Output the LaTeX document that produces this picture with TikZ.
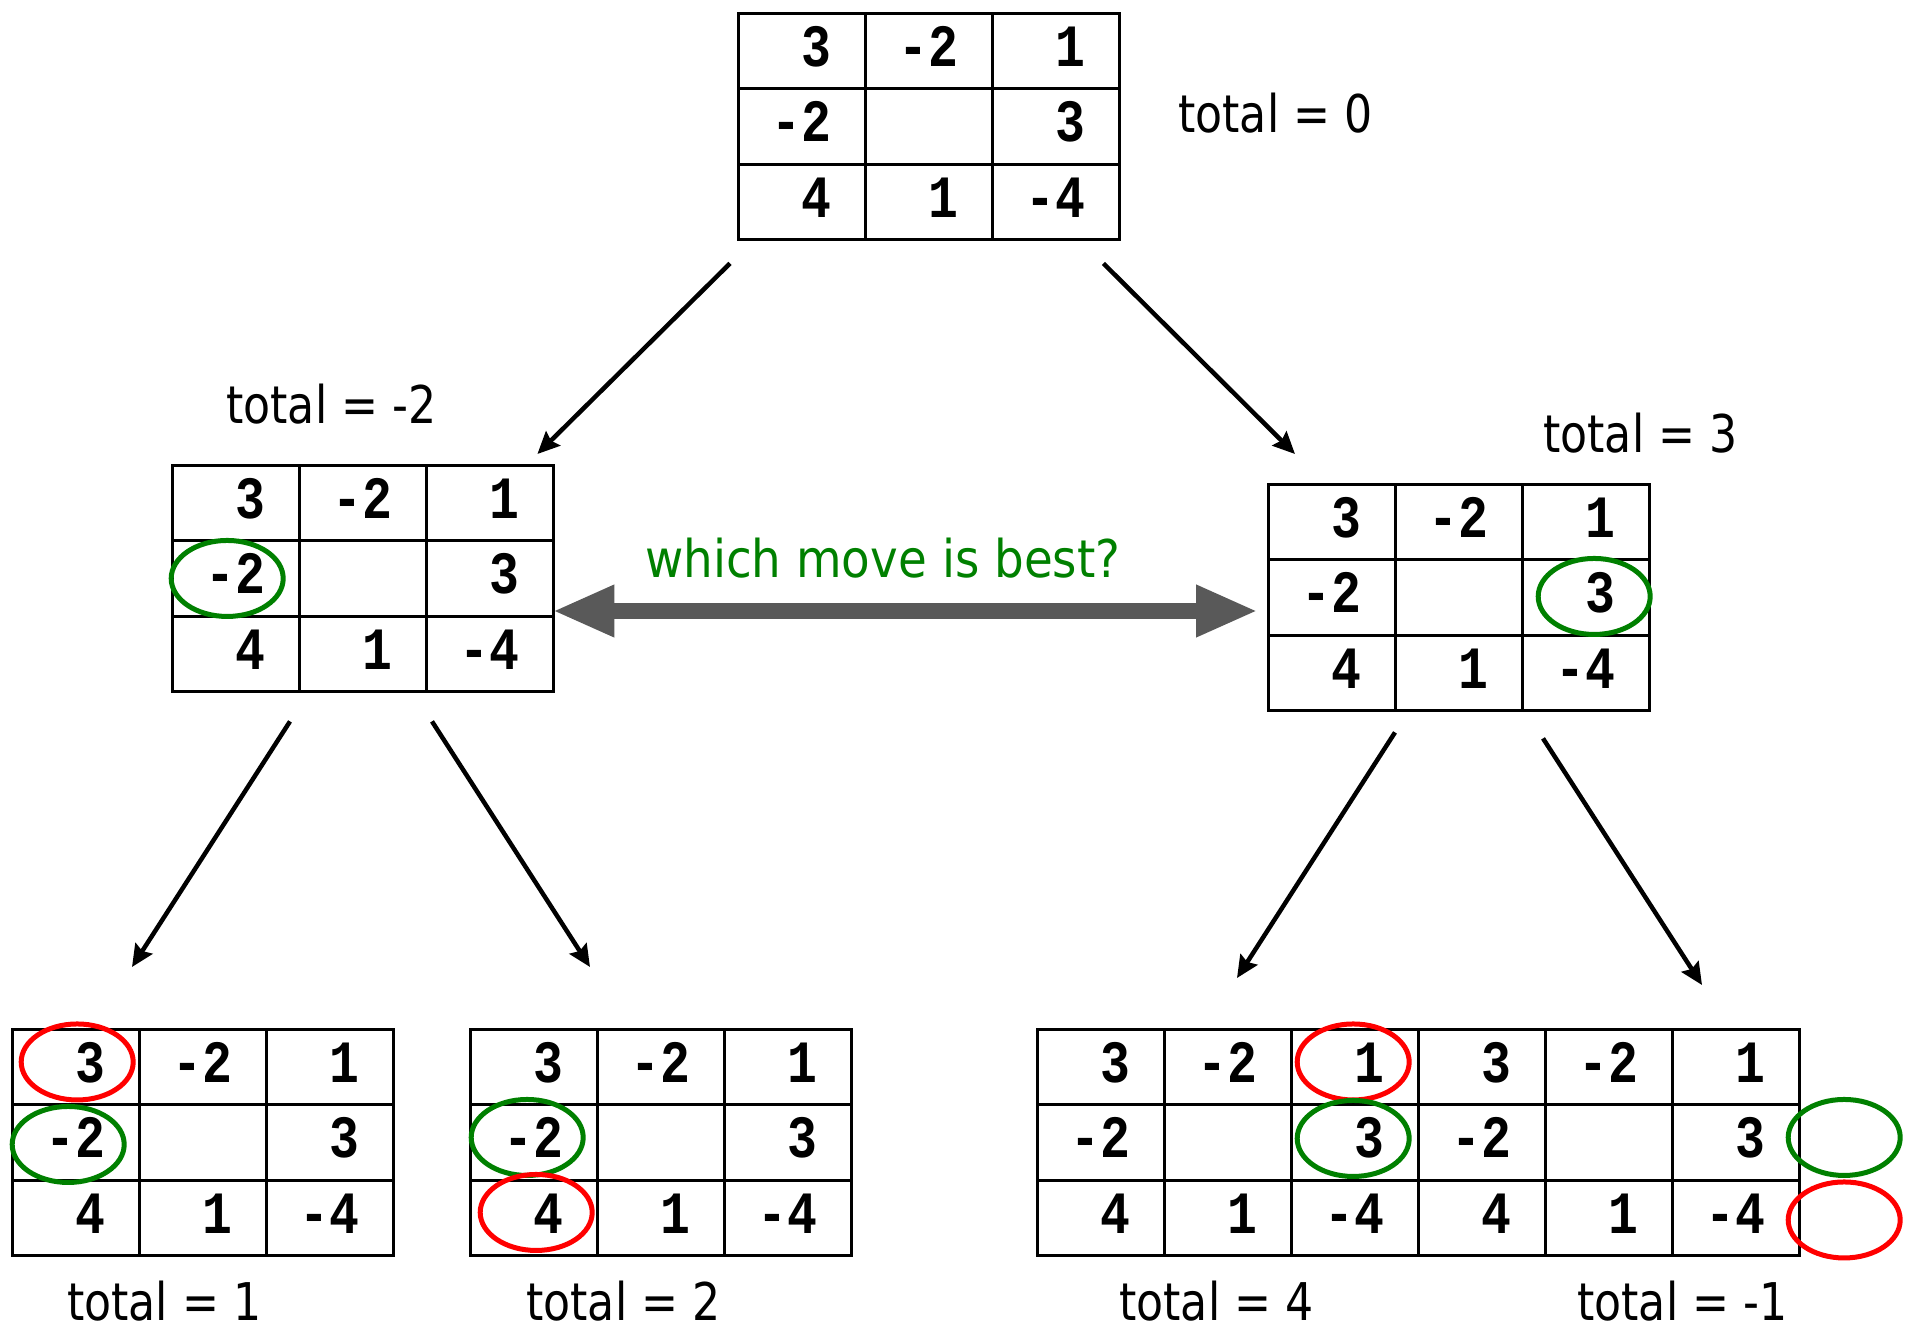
\documentclass[tikz,border=0pt]{standalone}
\usepackage{fontspec}
\newfontfamily\labelfont{DejaVu Sans}[FakeStretch=0.85]
\newfontfamily\questionfont{DejaVu Sans}[FakeStretch=0.9]
\newfontfamily\monofont{Liberation Mono}[FakeStretch=0.83]
\usetikzlibrary{matrix,arrows.meta,calc}

\definecolor{okgreen}{RGB}{0,128,0}
\definecolor{okred}{RGB}{255,0,0}
\definecolor{arrowgray}{RGB}{89,89,89}

% heavy monospaced face for the board values
\newcommand\digitfont{\fontsize{60}{60}\monofont\bfseries}
% a value right-aligned in a two-character field
\newcommand\cellv[1]{\sbox0{00}\makebox[\wd0][r]{#1}}

\tikzset{
  cellbox/.style={draw, line width=3pt, minimum width=127pt, minimum height=75.5pt,
    inner sep=0pt, text height=40pt, text depth=9.5pt, font=\digitfont},
  board/.style={matrix of nodes, nodes in empty cells, inner sep=0pt,
    column sep=-3pt, row sep=-3pt, anchor=north west, nodes={cellbox}},
  totlabel/.style={anchor=base west, inner sep=0pt, font={\fontsize{52}{62}\labelfont}},
  question/.style={anchor=base west, inner sep=0pt, text=okgreen,
    font={\fontsize{52}{62}\questionfont}},
  move/.style={-{Stealth[length=22pt,width=20pt,inset=3pt]}, line width=4.5pt},
  compare/.style={{Triangle[length=62pt,width=48pt]}-{Triangle[length=62pt,width=48pt]},
    line width=16pt, draw=arrowgray},
  goodring/.style={draw=okgreen, line width=5pt},
  badring/.style={draw=okred, line width=5pt},
}

\begin{document}
\begin{tikzpicture}[x=1pt, y=-1pt]
  \useasboundingbox (0,0) rectangle (1920,1330);

  % boards
  \matrix (T) [board] at (736.5,11.5) {
    \cellv{3} & \cellv{-2} & \cellv{1} \\
    \cellv{-2} & & \cellv{3} \\
    \cellv{4} & \cellv{1} & \cellv{-4} \\
  };
  \matrix (L) [board] at (170.5,463.5) {
    \cellv{3} & \cellv{-2} & \cellv{1} \\
    \cellv{-2} & & \cellv{3} \\
    \cellv{4} & \cellv{1} & \cellv{-4} \\
  };
  \matrix (R) [board] at (1266.5,482.5) {
    \cellv{3} & \cellv{-2} & \cellv{1} \\
    \cellv{-2} & & \cellv{3} \\
    \cellv{4} & \cellv{1} & \cellv{-4} \\
  };
  \matrix (B1) [board] at (10.5,1027.5) {
    \cellv{3} & \cellv{-2} & \cellv{1} \\
    \cellv{-2} & & \cellv{3} \\
    \cellv{4} & \cellv{1} & \cellv{-4} \\
  };
  \matrix (B2) [board] at (468.5,1027.5) {
    \cellv{3} & \cellv{-2} & \cellv{1} \\
    \cellv{-2} & & \cellv{3} \\
    \cellv{4} & \cellv{1} & \cellv{-4} \\
  };
  \matrix (B3) [board] at (1035.5,1027.5) {
    \cellv{3} & \cellv{-2} & \cellv{1} \\
    \cellv{-2} & & \cellv{3} \\
    \cellv{4} & \cellv{1} & \cellv{-4} \\
  };
  \matrix (B4) [board] at (1416.5,1027.5) {
    \cellv{3} & \cellv{-2} & \cellv{1} \\
    \cellv{-2} & & \cellv{3} \\
    \cellv{4} & \cellv{1} & \cellv{-4} \\
  };

  % totals
  \node[totlabel] (tT)  at (1178,132)  {total = 0};
  \node[totlabel] (tL)  at (226,423)   {total = -2};
  \node[totlabel] (tR)  at (1543,452)  {total = 3};
  \node[totlabel] (tB1) at (67,1320)   {total = 1};
  \node[totlabel] (tB2) at (526,1320)  {total = 2};
  \node[totlabel] (tB3) at (1119,1320) {total = 4};
  \node[totlabel] (tB4) at (1577,1320) {total = -1};
  \node[question] (q)   at (645,577)   {which move is best?};

  % moves
  \draw[move] ($(T.south west)+(-6.5,22)$) -- ($(L.north east)+(-17.5,-9.5)$);
  \draw[move] ($(T.south east)+(-17.5,22)$) -- ($(R.north west)+(28.5,-28.5)$);
  \draw[move] ($(L.south west)+(119.5,28)$) -- ($(B1.north west)+(121.5,-60.5)$);
  \draw[move] ($(L.south west)+(261.5,28)$) -- ($(B2.north west)+(121.5,-60.5)$);
  \draw[move] ($(R.south west)+(128.5,20)$) -- ($(B3.north west)+(201.5,-49.5)$);
  \draw[move] ($(R.south west)+(276.5,26)$) -- ($(B4.north west)+(285.5,-42.5)$);

  % comparison
  \draw[compare] ($(L.north east)+(-2.5,147.5)$) -- ($(R.north west)+(-8.5,128.5)$);

  % highlighted cells
  \draw[goodring] ($(L-2-1)+(-8.5,0)$) ellipse [x radius=56pt, y radius=38pt];
  \draw[goodring] ($(R-2-3)+(8.5,-1)$) ellipse [x radius=56pt, y radius=38pt];
  \draw[badring]  ($(B1-1-1)+(1.5,-5)$) ellipse [x radius=56pt, y radius=38pt];
  \draw[goodring] ($(B1-2-1)+(-7.5,2)$) ellipse [x radius=56pt, y radius=38pt];
  \draw[goodring] ($(B2-2-1)+(-6.5,-5)$) ellipse [x radius=56pt, y radius=38pt];
  \draw[badring]  ($(B2-3-1)+(2.5,-5.5)$) ellipse [x radius=56pt, y radius=38pt];
  \draw[badring]  ($(B3-1-3)+(-1.5,-5)$) ellipse [x radius=56pt, y radius=38pt];
  \draw[goodring] ($(B3-2-3)+(-1.5,-4)$) ellipse [x radius=56pt, y radius=38pt];
  \draw[goodring] ($(B4-2-3)+(108.5,-5)$) ellipse [x radius=56pt, y radius=38pt];
  \draw[badring]  ($(B4-3-3)+(108.5,2)$) ellipse [x radius=56pt, y radius=38pt];
\end{tikzpicture}
\end{document}
